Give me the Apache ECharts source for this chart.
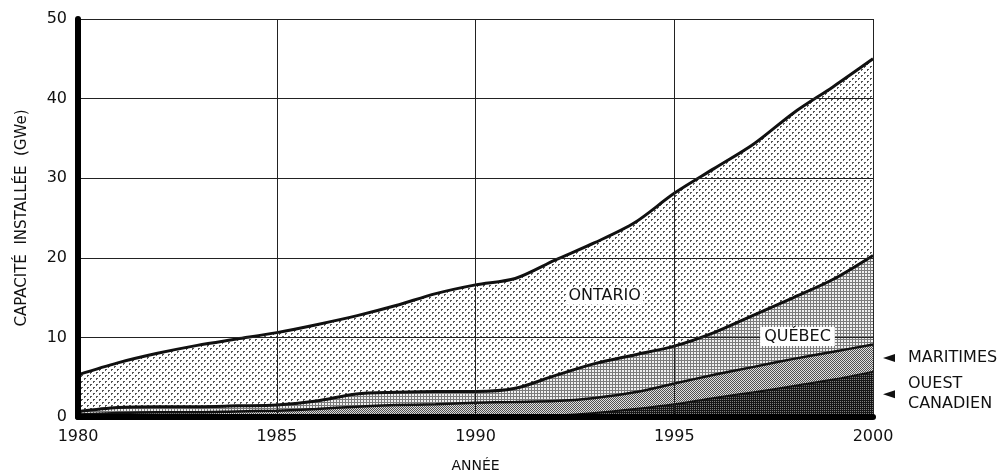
<!DOCTYPE html>
<html>
<head>
<meta charset="utf-8">
<title>Capacité nucléaire installée au Canada, 1980-2000</title>
<script src="https://cdn.jsdelivr.net/npm/echarts@6/dist/echarts.min.js"></script>
<style>
  html, body { margin: 0; padding: 0; background: #fff; }
  #chart { width: 1005px; height: 475px; }
</style>
</head>
<body>
<div id="chart"></div>
<script>
// Years on the horizontal axis
const years = [1980, 1981, 1982, 1983, 1984, 1985, 1986, 1987, 1988, 1989, 1990,
               1991, 1992, 1993, 1994, 1995, 1996, 1997, 1998, 1999, 2000];

// Installed capacity per region (GWe), stacked from the bottom up
const ouestCanadien = [0.1, 0.1, 0.1, 0.1, 0.1, 0.1, 0.1, 0.1, 0.1, 0.1, 0.1,
                       0.1, 0.2, 0.5, 1.0, 1.6, 2.4, 3.1, 3.9, 4.7, 5.7];
const maritimes     = [0.2, 0.4, 0.5, 0.5, 0.6, 0.7, 0.9, 1.2, 1.4, 1.5, 1.7,
                       1.8, 1.8, 1.9, 2.1, 2.6, 2.9, 3.2, 3.4, 3.5, 3.4];
const quebec        = [0.4, 0.7, 0.7, 0.7, 0.7, 0.7, 1.0, 1.6, 1.6, 1.6, 1.4,
                       1.7, 3.2, 4.3, 4.7, 4.7, 5.3, 6.5, 7.7, 9.1, 11.2];
const ontario       = [4.6, 5.6, 6.7, 7.7, 8.4, 9.1, 9.6, 9.8, 10.9, 12.3, 13.4,
                       13.8, 14.5, 15.2, 16.6, 19.2, 20.6, 21.5, 23.2, 24.2, 24.7];

// Axis ticks
const yTicks = [0, 10, 20, 30, 40, 50];
const yearStep = 5;

const FONT = 'DejaVu Sans';
const INK = '#111';

// Small halftone-like tiles used as area fills
function tile(size, draw) {
  const c = document.createElement('canvas');
  c.width = size; c.height = size;
  const g = c.getContext('2d');
  draw(g);
  return { image: c, repeat: 'repeat' };
}
const dotFill = tile(6, g => {
  g.fillStyle = '#fff'; g.fillRect(0, 0, 6, 6);
  g.fillStyle = '#555';
  g.fillRect(0, 0, 2, 2);
  g.fillRect(3, 3, 2, 2);
  g.fillStyle = '#fff';
  g.fillRect(1, 1, 1, 1);
  g.fillRect(4, 4, 1, 1);
});
const meshFill = tile(3, g => {
  g.fillStyle = '#f0f0f0'; g.fillRect(0, 0, 3, 3);
  g.fillStyle = '#7a7a7a';
  g.fillRect(0, 0, 3, 1);
  g.fillRect(0, 0, 1, 3);
});
const checkFill = tile(2, g => {
  g.fillStyle = '#e0e0e0'; g.fillRect(0, 0, 2, 2);
  g.fillStyle = '#505050';
  g.fillRect(0, 0, 1, 1);
  g.fillRect(1, 1, 1, 1);
});
const darkFill = tile(2, g => {
  g.fillStyle = '#808080'; g.fillRect(0, 0, 2, 2);
  g.fillStyle = '#161616';
  g.fillRect(0, 0, 1, 1);
  g.fillRect(1, 1, 1, 1);
  g.fillRect(1, 0, 1, 1);
});

function layer(name, values, fill, width) {
  return {
    name: name,
    type: 'line',
    stack: 'total',
    smooth: 0.3,
    symbol: 'none',
    data: values,
    lineStyle: { color: INK, width: width },
    areaStyle: { color: fill, opacity: 1 },
    z: 2
  };
}

const chart = echarts.init(document.getElementById('chart'), null, { renderer: 'canvas' });

chart.setOption({
  animation: false,
  backgroundColor: '#fff',
  grid: { left: 78, right: 132, top: 19, bottom: 58, outerBoundsMode: 'none', containLabel: false },
  xAxis: {
    type: 'category',
    data: years.map(String),
    boundaryGap: false,
    z: 3,
    name: 'ANNÉE',
    nameLocation: 'middle',
    nameGap: 42,
    nameTextStyle: { fontFamily: FONT, fontSize: 14, color: INK },
    axisLine: { show: true, onZero: false, lineStyle: { color: '#000', width: 6 } },
    axisTick: { show: false },
    axisLabel: { interval: yearStep - 1, margin: 12, fontFamily: FONT, fontSize: 16, color: INK },
    splitLine: { show: true, interval: yearStep - 1, lineStyle: { color: '#222', width: 1 } }
  },
  yAxis: {
    type: 'value',
    min: yTicks[0],
    max: yTicks[yTicks.length - 1],
    interval: 10,
    z: 3,
    name: 'CAPACITÉ  INSTALLÉE  (GWe)',
    nameLocation: 'middle',
    nameGap: 48,
    nameRotate: 90,
    nameTextStyle: { fontFamily: FONT, fontSize: 15, color: INK },
    axisLine: { show: true, lineStyle: { color: '#000', width: 6 } },
    axisTick: { show: false },
    axisLabel: { margin: 11, fontFamily: FONT, fontSize: 16, color: INK },
    splitLine: { show: true, lineStyle: { color: '#222', width: 1 } }
  },
  series: [
    layer('Ouest canadien', ouestCanadien, darkFill, 2),
    layer('Maritimes', maritimes, checkFill, 2.5),
    layer('Québec', quebec, meshFill, 3),
    layer('Ontario', ontario, dotFill, 3)
  ]
});

// Region labels, positioned in data coordinates (fractional years interpolated)
const last = years.length - 1;
function toPx(year, value) {
  const f = year - years[0];
  const i0 = Math.max(0, Math.min(last, Math.floor(f)));
  const i1 = Math.min(last, i0 + 1);
  const a = chart.convertToPixel({ gridIndex: 0 }, [i0, value]);
  const b = chart.convertToPixel({ gridIndex: 0 }, [i1, value]);
  const t = f - i0;
  return [a[0] + (b[0] - a[0]) * t, a[1]];
}
const ontPos = toPx(1993.25, 15.2);
const quePos = toPx(1998.1, 10.1);
const marPos = toPx(2000, ouestCanadien[last] + maritimes[last] / 2);
const ouePos = toPx(2000, ouestCanadien[last] / 2);

const textStyle = (t, extra) => Object.assign({
  text: t, fill: INK, font: '16px "' + FONT + '"',
  textAlign: 'center', textVerticalAlign: 'middle'
}, extra || {});

function arrow(x, y) {
  return {
    type: 'polygon', z: 100,
    shape: { points: [[x + 10, y], [x + 22, y - 4], [x + 22, y + 4]] },
    style: { fill: INK }
  };
}

chart.setOption({
  graphic: [
    { type: 'text', z: 100, x: ontPos[0], y: ontPos[1],
      style: textStyle('ONTARIO', { backgroundColor: '#fff', padding: [1, 2, 0, 2] }) },
    { type: 'text', z: 100, x: quePos[0], y: quePos[1],
      style: textStyle('QUÉBEC', { backgroundColor: '#fff', padding: [2, 4, 1, 4] }) },
    arrow(marPos[0], marPos[1]),
    { type: 'text', z: 100, x: marPos[0] + 35, y: marPos[1],
      style: textStyle('MARITIMES', { textAlign: 'left' }) },
    arrow(ouePos[0], ouePos[1]),
    { type: 'text', z: 100, x: ouePos[0] + 35, y: ouePos[1] - 10,
      style: textStyle('OUEST', { textAlign: 'left' }) },
    { type: 'text', z: 100, x: ouePos[0] + 35, y: ouePos[1] + 10,
      style: textStyle('CANADIEN', { textAlign: 'left' }) }
  ]
});
</script>
</body>
</html>
